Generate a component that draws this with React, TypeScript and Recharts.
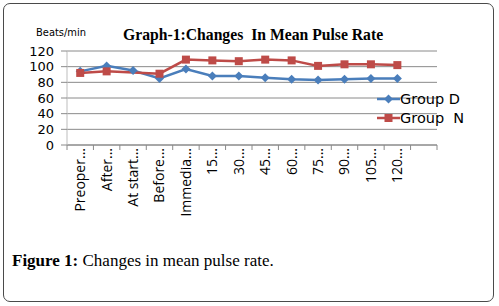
import React from 'react';
import { LineChart, Line, XAxis, YAxis, CartesianGrid } from 'recharts';

const categories = ['Preoper...', 'After...', 'At start...', 'Before...', 'Immedia...', '15...', '30...', '45...', '60...', '75...', '90...', '105...', '120...', ''];
const groupD = [94, 101, 95, 85, 97, 88, 88, 86, 84, 83, 84, 85, 85, null];
const groupN = [92, 94, null, 91, 109, 108, 107, 109, 108, 101, 103, 103, 102, null];
const yTicks = [0, 20, 40, 60, 80, 100, 120];
const seriesNames = ['Group D', 'Group  N'];

const data = categories.map((cat, i) => ({ cat, d: groupD[i], n: groupN[i] }));

const BLUE = '#4a7ebb';
const RED = '#be4b48';
const GRID = '#8a8a8a';
const PLOT_W = 370;
const BAND = PLOT_W / categories.length;
const TICK_FONT = '"Open Sans", sans-serif';

const diamondPath = (x: number, y: number, r: number) =>
  `M${x} ${y - r}L${x + r} ${y}L${x} ${y + r}L${x - r} ${y}Z`;

function DiamondDot(p: any) {
  if (p.cy == null || p.value == null) return <g key={p.index} />;
  return <path key={p.index} d={diamondPath(p.cx, p.cy, 4.5)} fill={BLUE} />;
}

function SquareDot(p: any) {
  if (p.cy == null || p.value == null) return <g key={p.index} />;
  return <rect key={p.index} x={p.cx - 4} y={p.cy - 4} width={8} height={8} fill={RED} />;
}

function XTick(props: any) {
  const { x, y, payload, index } = props;
  const ty = y + 3;
  return (
    <g>
      <line x1={x - BAND / 2} y1={y} x2={x - BAND / 2} y2={y + 5} stroke={GRID} />
      {index === categories.length - 1 && (
        <line x1={x + BAND / 2} y1={y} x2={x + BAND / 2} y2={y + 5} stroke={GRID} />
      )}
      <text
        x={x}
        y={ty}
        transform={`rotate(-90, ${x}, ${ty})`}
        textAnchor="end"
        dy="0.35em"
        fontSize={14}
        fontFamily={TICK_FONT}
        fill="#000"
      >
        {payload.value}
      </text>
    </g>
  );
}

export default function App() {
  return (
    <div style={{ position: 'fixed', left: 0, top: 0, width: 499, height: 306, background: '#fff' }}>
      <div
        style={{
          position: 'absolute', left: 3, top: 3, width: 491, height: 299,
          boxSizing: 'border-box', border: '1.5px solid #4a4a4a', borderRadius: 7,
        }}
      />
      <div style={{ position: 'absolute', left: 0, top: 0 }}>
        <LineChart width={499} height={306} data={data} margin={{ top: 51, right: 62, left: 0, bottom: 0 }}>
          <CartesianGrid horizontal vertical={false} stroke={GRID} />
          <XAxis
            dataKey="cat"
            scale="band"
            interval={0}
            height={161}
            tickSize={0}
            tickMargin={0}
            tickLine={false}
            axisLine={{ stroke: GRID }}
            tick={<XTick />}
          />
          <YAxis
            domain={[0, 120]}
            ticks={yTicks}
            interval={0}
            width={67}
            tickSize={6}
            tickMargin={7}
            tickLine={{ stroke: GRID }}
            axisLine={{ stroke: '#bdbdbd' }}
            tick={{ fontSize: 13, fontFamily: '"DejaVu Sans", sans-serif', fill: '#000' }}
          />
          <Line
            dataKey="d"
            name={seriesNames[0]}
            stroke={BLUE}
            strokeWidth={2.5}
            dot={DiamondDot}
            isAnimationActive={false}
          />
          <Line
            dataKey="n"
            name={seriesNames[1]}
            stroke={RED}
            strokeWidth={2.5}
            dot={SquareDot}
            connectNulls
            isAnimationActive={false}
          />
        </LineChart>
      </div>

      <div
        style={{
          position: 'absolute', left: 123, top: 26, whiteSpace: 'pre',
          fontFamily: '"Liberation Serif", serif', fontWeight: 'bold', fontSize: 15.7,
        }}
      >
        {'Graph-1:Changes  In Mean Pulse Rate'}
      </div>
      <div
        style={{
          position: 'absolute', left: 36, top: 26,
          fontFamily: '"Liberation Sans Narrow", "DejaVu Sans Condensed", sans-serif', fontSize: 11,
        }}
      >
        Beats/min
      </div>

      {seriesNames.map((name, i) => (
        <div
          key={name}
          style={{
            position: 'absolute', left: 377, top: 90 + i * 19, height: 18, lineHeight: '18px',
            display: 'flex', alignItems: 'center', whiteSpace: 'pre',
            fontFamily: '"DejaVu Sans", sans-serif', fontSize: 14.5,
          }}
        >
          <svg width={23} height={12}>
            <line x1={0} y1={6} x2={23} y2={6} stroke={i === 0 ? BLUE : RED} strokeWidth={2.5} />
            {i === 0 ? (
              <path d={diamondPath(11.5, 6, 4.5)} fill={BLUE} />
            ) : (
              <rect x={7.5} y={2} width={8} height={8} fill={RED} />
            )}
          </svg>
          {name}
        </div>
      ))}

      <div
        style={{
          position: 'absolute', left: 12, top: 251,
          fontFamily: '"Liberation Serif", serif', fontSize: 17,
        }}
      >
        <span style={{ fontWeight: 'bold' }}>Figure 1:</span> Changes in mean pulse rate.
      </div>
    </div>
  );
}
